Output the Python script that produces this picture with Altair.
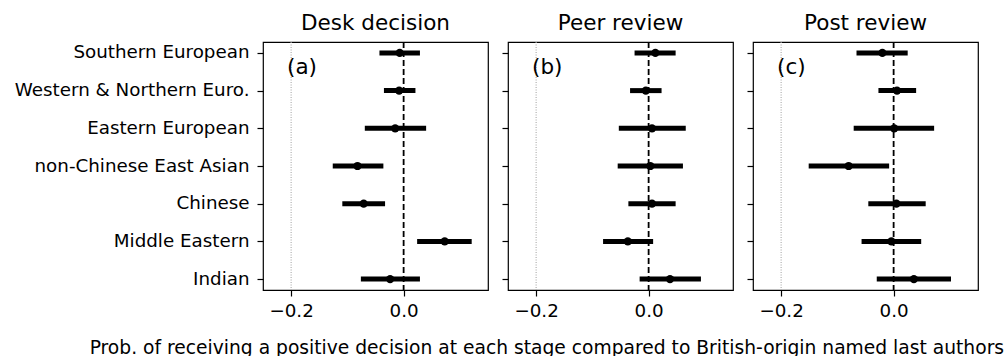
import altair as alt
import pandas as pd

groups = [
    "Southern European",
    "Western & Northern Euro.",
    "Eastern European",
    "non-Chinese East Asian",
    "Chinese",
    "Middle Eastern",
    "Indian",
]

stages = ["Desk decision", "Peer review", "Post review"]
tags = ["(a)", "(b)", "(c)"]

# point estimates and interval bounds, one list per stage
desk_est = [-0.007, -0.008, -0.015, -0.082, -0.071, 0.073, -0.024]
desk_lo = [-0.043, -0.035, -0.069, -0.126, -0.109, 0.024, -0.076]
desk_hi = [0.029, 0.021, 0.040, -0.036, -0.033, 0.121, 0.029]

peer_est = [0.012, -0.005, 0.006, 0.003, 0.006, -0.037, 0.038]
peer_lo = [-0.025, -0.033, -0.053, -0.055, -0.036, -0.081, -0.016]
peer_hi = [0.048, 0.023, 0.066, 0.061, 0.048, 0.008, 0.093]

post_est = [-0.020, 0.006, 0.001, -0.080, 0.005, -0.004, 0.036]
post_lo = [-0.066, -0.027, -0.071, -0.151, -0.045, -0.057, -0.030]
post_hi = [0.025, 0.040, 0.072, -0.008, 0.057, 0.049, 0.102]

x_ticks = [-0.2, 0.0]
x_domain = [-0.25, 0.15]

FONT = "DejaVu Sans"
LABEL_SIZE = 18.3
TITLE_SIZE = 21.5


def panel(stage, tag, est, lo, hi, show_labels):
    df = pd.DataFrame({"group": groups, "est": est, "lo": lo, "hi": hi})
    xscale = alt.Scale(domain=x_domain, nice=False, zero=False)
    yscale = alt.Scale(type="point", domain=groups, padding=0.29)
    xaxis = alt.Axis(values=x_ticks, format=".1f", title=None, labelPadding=6)
    yaxis = alt.Axis(title=None, labels=show_labels, labelPadding=8, labelLimit=400)

    light = alt.Chart(pd.DataFrame({"v": [x_ticks[0]]})).mark_rule(
        color="#a8a8a8", strokeWidth=1.1, strokeDash=[1, 1.5]
    ).encode(x=alt.X("v:Q", scale=xscale, axis=xaxis))

    zero = alt.Chart(pd.DataFrame({"v": [x_ticks[1]]})).mark_rule(
        color="black", strokeWidth=1.8, strokeDash=[6, 3]
    ).encode(x=alt.X("v:Q", scale=xscale, axis=xaxis))

    bars = alt.Chart(df).mark_rule(color="black", strokeWidth=5, strokeCap="butt").encode(
        x=alt.X("lo:Q", scale=xscale, axis=xaxis),
        x2="hi:Q",
        y=alt.Y("group:N", scale=yscale, axis=yaxis, sort=groups),
    )

    dots = alt.Chart(df).mark_circle(color="black", size=68, opacity=1).encode(
        x=alt.X("est:Q", scale=xscale, axis=xaxis),
        y=alt.Y("group:N", scale=yscale, axis=yaxis, sort=groups),
    )

    label = alt.Chart(pd.DataFrame({"tag": [tag]})).mark_text(
        align="left", baseline="middle", fontSize=TITLE_SIZE, font=FONT, color="black"
    ).encode(x=alt.value(24), y=alt.value(26), text="tag:N")

    return alt.layer(light, zero, bars, dots, label).properties(
        width=225,
        height=248,
        title=alt.TitleParams(stage, fontSize=TITLE_SIZE, fontWeight="normal", font=FONT, offset=7),
    )


panels = [
    panel(stages[0], tags[0], desk_est, desk_lo, desk_hi, True),
    panel(stages[1], tags[1], peer_est, peer_lo, peer_hi, False),
    panel(stages[2], tags[2], post_est, post_lo, post_hi, False),
]

chart = alt.hconcat(*panels, spacing=11).properties(
    title=alt.TitleParams(
        "Prob. of receiving a positive decision at each stage compared to British-origin named last authors",
        orient="bottom",
        anchor="start",
        fontSize=18.7,
        fontWeight="normal",
        font=FONT,
        dx=76,
        offset=19,
    ),
    autosize=alt.AutoSizeParams(type="none"),
    padding={"left": 263, "top": 42, "right": 743, "bottom": 314},
).configure_axis(
    labelFont=FONT,
    labelFontSize=LABEL_SIZE,
    labelColor="black",
    tickColor="black",
    tickSize=6,
    tickWidth=1.2,
    domain=False,
    grid=False,
).configure_view(
    stroke="black", strokeWidth=1.2
).configure_title(color="black")

chart.save("out.html", embed_options={"renderer": "svg", "actions": False})
